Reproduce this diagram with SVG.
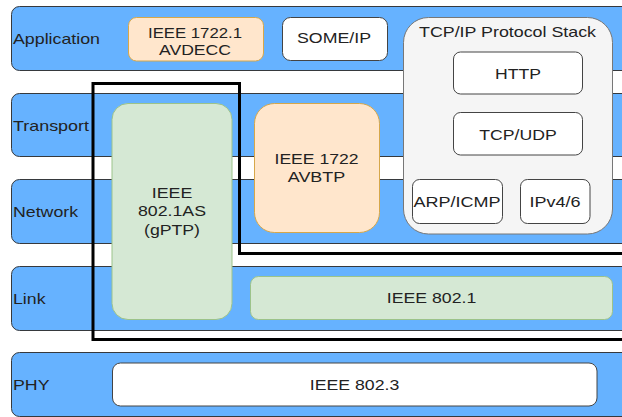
<svg xmlns="http://www.w3.org/2000/svg" width="622" height="417" viewBox="0 0 622 417">
<style>
text{font-family:"Liberation Sans",Arial,sans-serif;font-size:15px;fill:#222;lengthAdjust:spacingAndGlyphs}
.c{text-anchor:middle}
.band{fill:#66b2ff;stroke:#36393d;stroke-width:1}
.org{fill:#ffe6cc;stroke:#d6a74a;stroke-width:1}
.grn{fill:#d5e8d4;stroke:#9cc38a;stroke-width:1}
.wht{fill:#ffffff;stroke:#444;stroke-width:1}
.ctr{fill:#f5f5f5;stroke:#777;stroke-width:1}
</style>
<rect width="622" height="417" fill="#ffffff"/>
<g id="layer-application"><rect class="band" x="11.5" y="6.5" width="630" height="64" rx="8"/><text x="13" y="44" textLength="87" lengthAdjust="spacingAndGlyphs">Application</text></g>
<g id="layer-transport"><rect class="band" x="11.5" y="93.5" width="630" height="63" rx="8"/><text x="13" y="131" textLength="76" lengthAdjust="spacingAndGlyphs">Transport</text></g>
<g id="layer-network"><rect class="band" x="11.5" y="179.5" width="630" height="64" rx="8"/><text x="13" y="216.5" textLength="65" lengthAdjust="spacingAndGlyphs">Network</text></g>
<g id="layer-link"><rect class="band" x="11.5" y="266.5" width="630" height="64" rx="8"/><text x="13" y="304" textLength="32.5" lengthAdjust="spacingAndGlyphs">Link</text></g>
<g id="layer-phy"><rect class="band" x="11.5" y="352.5" width="630" height="64" rx="8"/><text x="13" y="389.5" textLength="36.5" lengthAdjust="spacingAndGlyphs">PHY</text></g>
<g id="avdecc"><rect class="org" x="128.5" y="17.5" width="135" height="43.5" rx="8"/><text class="c" x="195" y="37.5" textLength="94" lengthAdjust="spacingAndGlyphs">IEEE 1722.1</text><text class="c" x="195" y="54.5" textLength="72" lengthAdjust="spacingAndGlyphs">AVDECC</text></g>
<g id="someip"><rect class="wht" x="282.5" y="17.5" width="105" height="43" rx="8"/><text class="c" x="334" y="43" textLength="74" lengthAdjust="spacingAndGlyphs">SOME/IP</text></g>
<g id="tcpip-stack"><rect class="ctr" x="403.5" y="17.5" width="209" height="216.5" rx="25"/><text class="c" x="507.5" y="37" textLength="177" lengthAdjust="spacingAndGlyphs">TCP/IP Protocol Stack</text></g>
<g id="http"><rect class="wht" x="453.5" y="52" width="129" height="42" rx="7"/><text class="c" x="518" y="78.5" textLength="46" lengthAdjust="spacingAndGlyphs">HTTP</text></g>
<g id="tcpudp"><rect class="wht" x="453.5" y="112.5" width="129" height="42.5" rx="7"/><text class="c" x="518" y="139.5" textLength="77.5" lengthAdjust="spacingAndGlyphs">TCP/UDP</text></g>
<g id="arpicmp"><rect class="wht" x="412.5" y="179.5" width="90" height="44" rx="7"/><text class="c" x="457" y="206.5" textLength="87" lengthAdjust="spacingAndGlyphs">ARP/ICMP</text></g>
<g id="ipv46"><rect class="wht" x="520.5" y="179.5" width="69.5" height="44" rx="7"/><text class="c" x="555" y="206.5" textLength="51" lengthAdjust="spacingAndGlyphs">IPv4/6</text></g>
<g id="avbtp"><rect class="org" x="254.5" y="103.5" width="125" height="129" rx="20"/><text class="c" x="316.5" y="164" textLength="84" lengthAdjust="spacingAndGlyphs">IEEE 1722</text><text class="c" x="316.5" y="182" textLength="57.5" lengthAdjust="spacingAndGlyphs">AVBTP</text></g>
<g id="gptp"><rect class="grn" x="112" y="103.5" width="120" height="216" rx="16"/><text class="c" x="172" y="197.5" textLength="40.5" lengthAdjust="spacingAndGlyphs">IEEE</text><text class="c" x="172" y="216" textLength="68" lengthAdjust="spacingAndGlyphs">802.1AS</text><text class="c" x="172" y="234.5" textLength="56" lengthAdjust="spacingAndGlyphs">(gPTP)</text></g>
<g id="ieee8021"><rect class="grn" x="250.5" y="276.5" width="362" height="43" rx="8"/><text class="c" x="431.5" y="303" textLength="89.5" lengthAdjust="spacingAndGlyphs">IEEE 802.1</text></g>
<g id="ieee8023"><rect class="wht" x="112.5" y="363" width="484.5" height="43" rx="8"/><text class="c" x="354.5" y="389.5" textLength="89.5" lengthAdjust="spacingAndGlyphs">IEEE 802.3</text></g>
<g id="connectors"><path d="M640 253.5 H239.5 V83.5 H93 V339.5 H640" fill="none" stroke="#000" stroke-width="3"/></g>
</svg>
